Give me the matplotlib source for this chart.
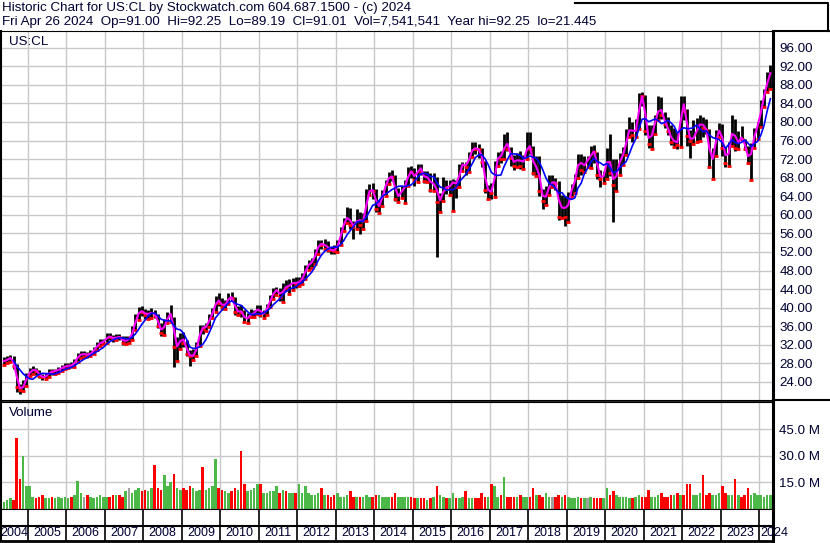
import matplotlib
matplotlib.use("Agg")
import matplotlib.pyplot as plt
import numpy as np
import pandas as pd

plt.rcParams['font.family'] = ['Liberation Sans', 'DejaVu Sans']

W, H = 830, 543
TXT = "#000033"

# monthly bars, May 2004 .. Apr 2024
start_month = "2004-05-01"

close = [
    28.5, 29.0, 29.3, 27.5, 23.0, 22.3, 23.5, 25.6,                          # 2004
    26.3, 26.8, 26.3, 25.2, 25.0, 25.3, 26.3, 26.2, 26.5, 26.7, 27.2, 27.4,  # 2005
    27.6, 27.5, 28.6, 29.8, 30.0, 30.0, 29.8, 30.3, 31.1, 32.1, 32.6, 32.7,  # 2006
    34.0, 33.6, 33.3, 33.8, 33.6, 32.5, 33.2, 33.2, 35.6, 38.0, 39.5, 39.0,  # 2007
    38.5, 38.8, 39.0, 38.3, 36.0, 34.6, 37.0, 38.2, 39.2, 31.5, 31.8, 33.8,  # 2008
    32.5, 30.0, 29.5, 29.8, 32.0, 35.8, 35.5, 36.2, 38.1, 39.3, 42.0, 41.1,  # 2009
    40.2, 41.0, 42.6, 42.0, 39.0, 39.4, 39.0, 37.0, 38.4, 38.6, 39.0, 40.2,  # 2010
    38.4, 39.0, 40.4, 42.2, 43.7, 43.9, 42.2, 44.6, 44.3, 45.2, 45.4, 45.2,  # 2011
    45.8, 46.6, 48.9, 49.5, 50.0, 52.1, 54.0, 53.5, 53.6, 52.5, 52.4, 52.3,  # 2012
    54.0, 56.8, 59.0, 59.7, 57.9, 57.3, 59.9, 57.8, 59.3, 64.7, 65.5, 65.2,  # 2013
    61.2, 62.6, 64.9, 67.3, 68.4, 68.2, 63.4, 64.7, 65.2, 66.7, 69.5, 69.2,  # 2014
    67.5, 70.8, 69.3, 67.3, 68.9, 65.4, 68.0, 62.8, 63.5, 66.3, 65.6, 66.6,  # 2015
    67.4, 66.1, 70.7, 70.9, 70.4, 73.2, 74.5, 74.2, 74.1, 71.4, 65.3, 65.4,  # 2016
    64.6, 71.0, 73.2, 72.1, 76.5, 74.1, 72.2, 70.6, 72.9, 70.5, 72.4, 75.4,  # 2017
    74.2, 69.0, 71.7, 65.2, 63.0, 64.8, 67.0, 67.0, 66.9, 59.6, 63.5, 59.5,  # 2018
    64.7, 65.8, 68.5, 72.8, 69.6, 71.7, 71.7, 73.8, 73.5, 68.6, 67.8, 68.8,  # 2019
    73.8, 69.0, 66.4, 70.3, 72.3, 73.3, 77.3, 79.1, 77.2, 78.9, 85.6, 85.5,  # 2020
    78.0, 75.2, 78.8, 80.7, 83.8, 81.4, 79.5, 78.0, 75.6, 76.2, 75.0, 85.3,  # 2021
    82.4, 77.0, 75.8, 77.1, 78.8, 80.1, 78.7, 78.2, 70.3, 73.8, 77.5, 78.8,  # 2022
    74.5, 71.2, 75.1, 79.8, 74.3, 77.0, 76.3, 74.2, 71.1, 75.1, 78.5, 79.7,  # 2023
    84.2, 86.6, 90.0, 91.0,                                                  # 2024
]

high = [
    29.3, 29.6, 29.9, 29.6, 27.8, 23.6, 24.4, 26.0,
    27.1, 27.4, 27.0, 26.6, 25.8, 25.9, 26.8, 26.8, 26.9, 27.2, 27.6, 28.0,
    28.0, 28.2, 29.0, 30.3, 30.6, 30.6, 30.4, 30.8, 31.6, 32.6, 33.2, 33.2,
    34.5, 34.6, 34.1, 34.3, 34.4, 34.0, 33.8, 34.0, 36.0, 38.6, 40.2, 40.3,
    39.8, 39.5, 39.9, 39.6, 38.6, 36.6, 37.6, 39.0, 40.5, 38.0, 33.6, 34.6,
    34.8, 33.0, 30.8, 31.0, 32.6, 36.3, 36.3, 36.8, 38.6, 39.9, 42.6, 43.2,
    42.0, 41.6, 43.2, 43.4, 42.2, 40.3, 40.6, 39.4, 38.9, 39.7, 39.5, 40.6,
    40.5, 39.5, 40.8, 42.7, 44.2, 44.5, 44.2, 45.3, 46.0, 46.1, 46.3, 46.6,
    46.6, 47.4, 49.2, 50.2, 50.6, 52.6, 54.6, 54.5, 54.7, 54.4, 53.1, 53.4,
    54.6, 57.3, 59.4, 61.6, 61.5, 58.7, 61.3, 60.6, 60.3, 65.5, 66.6, 66.9,
    65.5, 63.2, 65.3, 67.6, 69.2, 69.6, 68.6, 65.8, 66.3, 67.4, 70.4, 70.5,
    70.0, 71.0, 70.9, 69.5, 69.4, 69.0, 69.0, 68.2, 64.8, 68.1, 67.5, 67.4,
    67.8, 67.6, 71.0, 71.4, 71.3, 73.6, 75.7, 75.6, 75.2, 74.3, 71.6, 66.4,
    66.8, 71.6, 73.6, 73.7, 77.4, 77.9, 74.6, 72.8, 73.4, 73.8, 72.9, 77.9,
    77.9, 74.8, 72.6, 72.6, 65.6, 66.2, 68.6, 68.6, 68.0, 67.3, 64.3, 64.1,
    65.0, 66.6, 68.8, 73.2, 73.1, 72.6, 72.7, 74.9, 75.0, 73.6, 69.7, 69.5,
    74.4, 77.4, 72.0, 72.1, 73.4, 74.6, 78.5, 81.0, 80.1, 80.7, 86.3, 86.4,
    85.8, 79.4, 79.3, 81.5, 85.6, 85.3, 82.1, 81.0, 79.4, 78.6, 77.8, 85.6,
    85.6, 82.8, 78.2, 80.5, 80.8, 81.5, 81.0, 80.6, 78.5, 74.4, 78.2, 79.8,
    79.6, 74.7, 75.6, 81.4, 80.6, 78.0, 79.1, 76.4, 74.8, 75.4, 78.8, 80.1,
    84.7, 87.1, 90.7, 92.25,
]

low = [
    27.6, 28.0, 28.3, 26.8, 21.8, 21.4, 22.1, 23.2,
    25.3, 25.8, 25.6, 24.8, 24.5, 24.7, 25.0, 25.6, 25.7, 26.0, 26.3, 26.8,
    27.0, 27.0, 27.3, 28.4, 29.2, 29.3, 29.2, 29.5, 30.1, 30.9, 31.8, 32.1,
    32.4, 33.0, 32.7, 33.0, 33.0, 32.0, 32.2, 32.3, 33.0, 35.3, 37.4, 38.2,
    37.5, 37.6, 37.8, 37.7, 35.6, 34.0, 34.2, 36.6, 37.0, 27.2, 28.5, 31.2,
    31.6, 29.6, 27.5, 28.8, 29.5, 31.8, 34.4, 34.9, 35.8, 37.8, 39.0, 40.4,
    39.6, 39.8, 40.7, 41.4, 38.4, 38.5, 37.9, 36.6, 36.7, 37.9, 37.9, 38.7,
    37.9, 37.8, 38.5, 40.2, 41.8, 42.7, 41.5, 41.2, 43.5, 43.0, 43.8, 44.2,
    44.6, 45.2, 46.2, 48.1, 48.6, 49.4, 51.5, 52.6, 52.7, 51.9, 51.6, 51.6,
    51.9, 53.6, 56.5, 58.3, 56.9, 54.9, 56.9, 55.9, 56.9, 58.7, 64.2, 63.4,
    60.6, 60.5, 62.0, 64.0, 66.6, 67.3, 63.0, 62.8, 63.6, 62.6, 66.2, 68.0,
    66.2, 67.0, 68.5, 66.8, 67.0, 65.0, 65.2, 51.0, 60.6, 63.0, 64.4, 64.2,
    60.8, 63.7, 65.9, 69.4, 68.6, 69.2, 72.4, 73.2, 72.2, 70.4, 64.7, 63.5,
    63.5, 63.9, 70.6, 71.2, 72.0, 73.7, 70.5, 69.6, 70.4, 69.8, 69.8, 72.1,
    73.2, 68.6, 68.4, 64.0, 61.3, 62.1, 64.3, 66.1, 65.4, 58.8, 59.3, 57.5,
    58.5, 63.9, 64.8, 68.0, 68.6, 69.3, 70.2, 70.0, 71.1, 67.8, 66.0, 66.9,
    67.8, 68.4, 58.5, 65.1, 68.6, 70.8, 72.9, 76.8, 75.6, 76.8, 78.4, 83.4,
    77.2, 74.3, 74.2, 77.5, 80.5, 80.6, 78.7, 77.2, 75.0, 74.6, 74.1, 74.7,
    80.4, 74.8, 72.3, 75.3, 75.6, 76.0, 76.8, 77.5, 70.0, 67.8, 72.7, 76.7,
    72.7, 70.4, 70.5, 74.9, 73.8, 74.2, 75.9, 73.9, 70.9, 67.6, 74.5, 76.3,
    78.9, 83.2, 86.4, 87.1,
]

# volume in millions
volume = [
    4, 5, 6, 5, 40, 17, 30, 13,
    13, 7, 6, 7, 8, 6, 6, 7, 6, 7, 6, 7,
    6, 7, 8, 16, 9, 7, 8, 7, 6, 7, 8, 7,
    7, 7, 8, 8, 8, 7, 10, 12, 9, 11, 12, 10,
    11, 10, 12, 25, 12, 11, 19, 13, 15, 20, 12, 11,
    12, 11, 13, 12, 10, 11, 24, 11, 12, 13, 28, 12,
    11, 10, 9, 10, 12, 11, 33, 14, 10, 11, 12, 14,
    14, 9, 9, 10, 10, 13, 9, 11, 10, 9, 9, 9,
    14, 9, 13, 9, 8, 8, 9, 12, 8, 8, 7, 8,
    9, 7, 7, 8, 10, 7, 7, 7, 7, 8, 7, 7,
    8, 8, 7, 7, 7, 7, 9, 7, 7, 7, 7, 7,
    6, 6, 6, 6, 5, 6, 7, 13, 8, 7, 6, 6,
    9, 6, 6, 7, 10, 6, 6, 6, 6, 9, 7, 7,
    14, 13, 7, 8, 18, 7, 7, 7, 7, 8, 7, 7,
    7, 12, 8, 8, 7, 9, 7, 7, 7, 8, 7, 8,
    7, 6, 6, 7, 6, 6, 6, 7, 6, 6, 6, 6,
    12, 8, 10, 8, 7, 7, 7, 6, 6, 7, 8, 7,
    7, 11, 7, 7, 8, 9, 7, 7, 8, 8, 9, 8,
    8, 14, 14, 8, 8, 9, 19, 8, 9, 8, 8, 9,
    13, 9, 8, 8, 17, 8, 7, 8, 12, 8, 9, 8,
    8, 7, 8, 8,
]

price_ticks = list(range(24, 97, 4))
vol_ticks = [15, 30, 45]
years = list(range(2004, 2025))

header1 = "Historic Chart for US:CL by Stockwatch.com 604.687.1500 - (c) 2024"
header2 = ("Fri Apr 26 2024  Op=91.00  Hi=92.25  Lo=89.19  Cl=91.01  "
           "Vol=7,541,541  Year hi=92.25  lo=21.445")

dates = pd.date_range(start_month, periods=len(close), freq="MS")
t = dates.year + (dates.month - 0.5) / 12.0
df = pd.DataFrame({"t": t, "close": close, "high": high, "low": low, "vol": volume})
df["ma_short"] = df["close"].rolling(2, min_periods=1).mean()
df["ma_long"] = df["close"].rolling(6, min_periods=4).mean()
chg = df["close"].diff().fillna(1)
df["down"] = chg < 0
vcol = np.where(chg < 0, "#ff0000", np.where(chg > 0, "#4cb848", "#a0a0a0"))

X0, X1 = 2004.30, 2024.36
grid_c = "#c8c8c8"
FS = 9.6

def fy(y):
    return 1 - y / H

fig = plt.figure(figsize=(W / 100, H / 100), dpi=100)

# price panel
ax = fig.add_axes([1 / W, fy(400), 772 / W, (400 - 31) / H])
ax.vlines(df["t"], df["low"], df["high"], color="black", lw=2.0, zorder=3)
dn = df[df["down"]]
ax.plot(dn["t"], dn["close"], ls="none", marker="_", ms=3, mew=2, color="#ff0000", zorder=4)
up = df[~df["down"]]
ax.plot(up["t"], up["low"], ls="none", marker="_", ms=2.5, mew=2, color="#ff0000", zorder=4)
ax.plot(df["t"], df["ma_short"], color="#ff00ff", lw=1.5, zorder=5)
ax.plot(df["t"], df["ma_long"], color="#0000ff", lw=1.2, zorder=6)
ax.set_xlim(X0, X1)
ax.set_ylim(20.12, 99.6)
ax.set_yticks(price_ticks)
ax.set_yticklabels([f"{v:.2f}" for v in price_ticks])
ax.set_xticks(years[1:])
ax.tick_params(axis="x", length=0, labelbottom=False)
ax.yaxis.tick_right()
ax.tick_params(axis="y", length=0, pad=4.5, labelsize=FS, labelcolor=TXT)
ax.grid(True, color=grid_c, lw=1.0, zorder=0)
for s in ax.spines.values():
    s.set_color("black")
ax.spines["right"].set_linewidth(2.2)
ax.spines["left"].set_linewidth(1.5)
ax.text(8 / 772, 1 - 11 / 369, "US:CL", transform=ax.transAxes, fontsize=FS,
        color=TXT, va="center", ha="left")

# volume panel
av = fig.add_axes([1 / W, fy(509), 772 / W, (509 - 402) / H])
av.bar(df["t"], df["vol"], width=0.8 / 12, color=vcol, linewidth=0, zorder=3)
av.set_xlim(X0, X1)
av.set_ylim(0, 60.5)
av.set_yticks(vol_ticks)
av.set_yticklabels([f"{v:.1f} M" for v in vol_ticks])
av.set_xticks(years[1:])
av.tick_params(axis="x", length=0, labelbottom=False)
av.yaxis.tick_right()
av.tick_params(axis="y", length=0, pad=4.5, labelsize=FS, labelcolor=TXT)
av.grid(True, color=grid_c, lw=1.0, zorder=0)
for s in av.spines.values():
    s.set_color("black")
av.spines["right"].set_linewidth(2.2)
av.spines["left"].set_linewidth(1.5)
av.text(8 / 772, 1 - 11 / 107, "Volume", transform=av.transAxes, fontsize=FS,
        color=TXT, va="center", ha="left")

# date rows
ad = fig.add_axes([1 / W, fy(541), 772 / W, 32 / H])
ad.set_xlim(X0, X1)
ad.set_ylim(0, 32)
ad.set_xticks([])
ad.set_yticks([])
ad.vlines(years[1:], 0, 32, color="black", lw=1.2)
ad.axhline(15, color="black", lw=1.5)
for s in ad.spines.values():
    s.set_color("black")
ad.spines["bottom"].set_linewidth(2)
ad.spines["right"].set_linewidth(2.2)
ad.spines["left"].set_linewidth(1.5)
edges = [X0] + years[1:] + [X1]
for yr, a, b in zip(years[:-1], edges[:-2], edges[1:-1]):
    ad.text((a + b) / 2, 7.5, str(yr), ha="center", va="center", fontsize=9,
            color=TXT, clip_on=False)
# last (partial) year runs on past the axis edge, as in the original
ad.text(years[-1] + 0.02, 7.5, str(years[-1]), ha="left", va="center", fontsize=9,
        color=TXT, clip_on=False)

# frame lines and header, in pixel coordinates
ov = fig.add_axes([0, 0, 1, 1], zorder=10)
ov.set_xlim(0, W)
ov.set_ylim(H, 0)
ov.axis("off")
ov.plot([773, W], [31, 31], color="black", lw=1.5)
ov.plot([773, W], [400, 400], color="black", lw=1.5)
ov.plot([1, 773], [402, 402], color="black", lw=1.2)
ov.plot([575, 828, 828], [3, 3, 31], color="black", lw=1.5)
ov.text(2, 7.5, header1, fontsize=FS, color=TXT, va="center", ha="left")
ov.text(2, 22, header2, fontsize=FS, color=TXT, va="center", ha="left")

fig.savefig("out.png", dpi=100)
